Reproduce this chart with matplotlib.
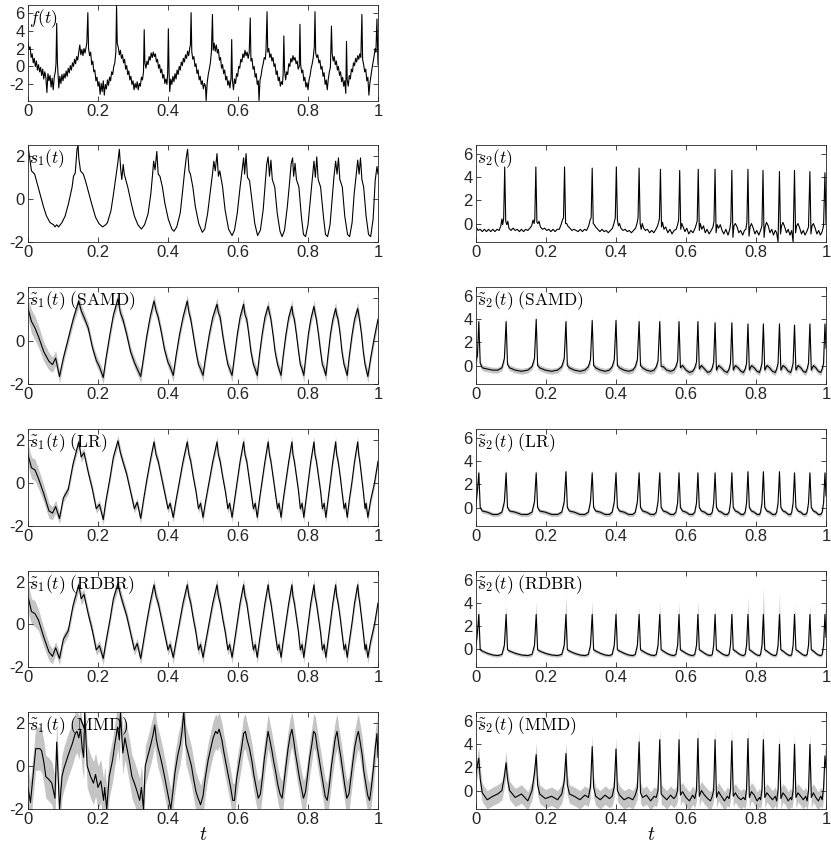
import numpy as np
import matplotlib
matplotlib.use('Agg')
import matplotlib.pyplot as plt

# ---------------- data ----------------
x_ticks = [0, 0.2, 0.4, 0.6, 0.8, 1]
x_tick_labels = ['0', '0.2', '0.4', '0.6', '0.8', '1']

# f(t): (t, value)
f_pts = [
    (0.000, 2.6), (0.003, 1.9), (0.006, 2.2), (0.009, 1.0), (0.012, 1.4), (0.015, 0.4), (0.018, 0.9),
    (0.021, 0.0), (0.024, 0.6), (0.027, -0.4), (0.030, 0.2), (0.033, -0.6), (0.036, -0.1), (0.039, -1.0),
    (0.042, -0.3), (0.045, -1.4), (0.048, -0.6), (0.051, -1.2), (0.054, -2.9), (0.057, -0.8), (0.060, -1.6),
    (0.063, -1.0), (0.066, -2.3), (0.069, -1.3), (0.072, -2.6), (0.075, -1.2), (0.078, -0.6), (0.080, 0.3),
    (0.082, 4.8), (0.084, 0.5), (0.086, -1.0), (0.088, -2.4), (0.091, -1.1), (0.094, -1.9), (0.097, -0.9),
    (0.100, -1.6), (0.103, -0.8), (0.106, -1.3), (0.109, -0.5), (0.112, -1.1), (0.115, -0.2), (0.118, -0.7),
    (0.121, 0.1), (0.124, -0.4), (0.127, 0.4), (0.130, 0.0), (0.133, 0.8), (0.136, 0.3), (0.139, 1.1),
    (0.142, 0.7), (0.145, 1.6), (0.148, 2.4), (0.151, 1.3), (0.154, 1.9), (0.157, 1.2), (0.160, 2.0),
    (0.163, 1.5), (0.166, 2.2), (0.168, 2.6), (0.171, 6.0), (0.173, 2.0), (0.176, 1.2), (0.179, 1.6),
    (0.182, 0.2), (0.185, 0.6), (0.188, -0.6), (0.191, -0.4), (0.194, -1.6), (0.197, -1.2), (0.200, -2.2),
    (0.203, -1.7), (0.206, -3.1), (0.209, -1.9), (0.212, -2.8), (0.215, -1.6), (0.218, -3.2), (0.221, -2.0),
    (0.224, -2.5), (0.227, -1.5), (0.230, -2.1), (0.233, -1.2), (0.236, -1.6), (0.239, -0.6), (0.242, -0.9),
    (0.245, 0.0), (0.248, 0.4), (0.251, 1.6), (0.253, 6.8), (0.255, 2.6), (0.258, 2.1), (0.261, 1.3),
    (0.264, 1.8), (0.267, 0.9), (0.270, 1.3), (0.273, 0.4), (0.276, 0.8), (0.279, -0.3), (0.282, 0.1),
    (0.285, -0.9), (0.288, -0.5), (0.291, -1.5), (0.294, -1.1), (0.297, -2.0), (0.300, -1.6), (0.303, -2.6),
    (0.306, -1.9), (0.309, -2.4), (0.312, -1.7), (0.315, -2.6), (0.318, -1.9), (0.321, -2.2), (0.324, -1.2),
    (0.327, -1.5), (0.330, -0.6), (0.332, 4.1), (0.334, 0.4), (0.337, -0.2), (0.340, 0.6), (0.343, 0.2),
    (0.346, 1.1), (0.349, 0.7), (0.352, 1.5), (0.355, 1.0), (0.358, 1.6), (0.361, 1.1), (0.364, 1.4),
    (0.367, 0.5), (0.370, 0.8), (0.373, -0.2), (0.376, 0.2), (0.379, -0.7), (0.382, -0.3), (0.385, -1.3),
    (0.388, -0.9), (0.391, -1.9), (0.394, -1.4), (0.397, -2.0), (0.399, -0.8), (0.401, 4.2), (0.403, -0.6),
    (0.405, -2.8), (0.408, -1.4), (0.411, -2.0), (0.414, -1.1), (0.417, -1.7), (0.420, -0.8), (0.423, -1.4),
    (0.426, -0.4), (0.429, -0.9), (0.432, 0.0), (0.435, -0.4), (0.438, 0.5), (0.441, 0.1), (0.444, 0.9),
    (0.447, 0.5), (0.450, 1.3), (0.453, 0.9), (0.456, 1.7), (0.459, 1.2), (0.462, 2.0), (0.464, 2.4),
    (0.466, 6.0), (0.468, 1.6), (0.471, 0.8), (0.474, 1.1), (0.477, 0.0), (0.480, 0.3), (0.483, -0.8),
    (0.486, -0.4), (0.489, -1.5), (0.492, -1.1), (0.495, -2.0), (0.498, -1.6), (0.501, -2.5), (0.504, -1.9),
    (0.507, -2.2), (0.509, -3.8), (0.512, -1.8), (0.515, -0.9), (0.518, -0.3), (0.521, 0.4), (0.524, 1.6),
    (0.527, 5.8), (0.529, 1.8), (0.532, 2.6), (0.535, 1.7), (0.538, 2.4), (0.541, 1.5), (0.544, 1.9),
    (0.547, 0.7), (0.550, 1.0), (0.553, -0.2), (0.556, 0.2), (0.559, -0.8), (0.562, -0.4), (0.565, -1.5),
    (0.568, -1.1), (0.571, -2.1), (0.574, -1.6), (0.577, -2.4), (0.580, -1.3), (0.582, 3.0), (0.584, -1.5),
    (0.587, -2.6), (0.590, -1.4), (0.593, -1.9), (0.596, -0.8), (0.599, -1.1), (0.602, 0.0), (0.605, -0.2),
    (0.608, 0.8), (0.611, 0.5), (0.614, 1.4), (0.617, 1.0), (0.620, 1.8), (0.623, 1.2), (0.626, 1.6),
    (0.629, 0.9), (0.632, 1.5), (0.635, 5.4), (0.637, 0.6), (0.640, 0.9), (0.643, -0.3), (0.646, 0.0),
    (0.649, -1.2), (0.652, -0.8), (0.655, -2.0), (0.658, -1.6), (0.660, -3.8), (0.663, -1.5), (0.666, -1.0),
    (0.669, -0.2), (0.672, 0.3), (0.675, 1.0), (0.678, 0.8), (0.680, 1.8), (0.683, 6.1), (0.685, 1.6),
    (0.688, 2.0), (0.691, 1.0), (0.694, 1.4), (0.697, 0.6), (0.700, 1.0), (0.703, 0.0), (0.706, 0.3),
    (0.709, -0.9), (0.712, -0.5), (0.715, -1.6), (0.718, -1.2), (0.721, -2.2), (0.724, -1.7), (0.727, -2.0),
    (0.729, -0.8), (0.731, 3.4), (0.733, -0.4), (0.736, -1.5), (0.739, -0.6), (0.742, -0.9), (0.745, 0.3),
    (0.748, 0.0), (0.751, 0.9), (0.754, 0.5), (0.757, 1.2), (0.760, 0.7), (0.763, 1.0), (0.766, 0.3),
    (0.769, 0.6), (0.772, -0.3), (0.775, 0.0), (0.777, 4.7), (0.779, 0.2), (0.782, -0.7), (0.785, -0.4),
    (0.788, -1.6), (0.791, -1.2), (0.794, -2.3), (0.797, -1.8), (0.800, -2.6), (0.803, -1.5), (0.806, -1.0),
    (0.809, -0.2), (0.812, 0.3), (0.815, 1.0), (0.818, 2.2), (0.820, 6.1), (0.822, 1.5), (0.825, 1.0),
    (0.828, 1.3), (0.831, 0.4), (0.834, 0.7), (0.837, -0.3), (0.840, 0.0), (0.843, -1.1), (0.846, -0.7),
    (0.849, -2.0), (0.852, -1.5), (0.855, -2.6), (0.858, -1.4), (0.861, -0.6), (0.864, -0.1), (0.867, 4.5),
    (0.869, 1.5), (0.872, 0.6), (0.875, 1.1), (0.878, 0.2), (0.881, 0.6), (0.884, -0.4), (0.887, 0.0),
    (0.890, -1.0), (0.893, -0.6), (0.896, -1.7), (0.899, -1.2), (0.902, -2.2), (0.905, -1.6), (0.908, -3.0),
    (0.910, 2.8), (0.912, -1.5), (0.915, -2.2), (0.918, -1.0), (0.921, -1.4), (0.924, -0.3), (0.927, -0.6),
    (0.930, 0.4), (0.933, 0.1), (0.936, 0.9), (0.939, 0.5), (0.942, 1.2), (0.945, 0.8), (0.948, 1.4),
    (0.951, 1.0), (0.954, 5.8), (0.956, 0.8), (0.959, 0.2), (0.962, -0.6), (0.965, -0.3), (0.968, -1.6),
    (0.971, -1.2), (0.974, -3.2), (0.977, -1.8), (0.980, -1.0), (0.983, -0.2), (0.986, 0.5), (0.989, 1.2),
    (0.992, 2.0), (0.994, 1.6), (0.997, 5.3), (1.000, 0.2),
]

# s1(t): (t, value)
s1_pts = [
    (0.000, 2.45), (0.010, 1.3), (0.019, 1.15), (0.034, 0.25), (0.044, -0.35), (0.053, -0.8), (0.063, -1.1),
    (0.073, -1.2), (0.077, -1.3), (0.082, -1.2), (0.087, -1.3), (0.097, -1.1), (0.106, -0.8), (0.116, -0.2),
    (0.126, 0.55), (0.130, 1.05), (0.135, 1.2), (0.140, 2.3), (0.143, 2.5), (0.145, 1.9), (0.150, 1.3),
    (0.158, 1.15), (0.164, 0.85), (0.174, 0.25), (0.184, -0.35), (0.193, -0.85), (0.203, -1.15), (0.213, -1.3),
    (0.222, -1.2), (0.227, -1.1), (0.237, -0.55), (0.244, 0.2), (0.251, 1.0), (0.256, 1.6), (0.261, 2.3),
    (0.265, 1.35), (0.268, 0.9), (0.272, 1.6), (0.275, 1.15), (0.285, 0.55), (0.295, -0.2), (0.304, -0.8),
    (0.314, -1.2), (0.324, -1.4), (0.333, -1.2), (0.343, -0.7), (0.351, 0.25), (0.356, 1.15), (0.359, 1.75),
    (0.363, 1.35), (0.368, 2.2), (0.372, 1.15), (0.377, 1.05), (0.384, 0.55), (0.391, -0.2), (0.401, -0.95),
    (0.411, -1.4), (0.417, -1.5), (0.425, -1.3), (0.435, -0.65), (0.442, 0.4), (0.447, 1.2), (0.452, 1.9),
    (0.456, 2.3), (0.460, 1.3), (0.464, 1.15), (0.471, 0.55), (0.478, -0.35), (0.488, -1.15), (0.498, -1.55),
    (0.505, -1.4), (0.513, -0.7), (0.521, 0.35), (0.527, 1.15), (0.531, 1.75), (0.535, 1.3), (0.540, 2.1),
    (0.544, 1.05), (0.548, 1.3), (0.556, 0.55), (0.563, -0.5), (0.573, -1.4), (0.583, -1.7), (0.590, -1.45),
    (0.598, -0.65), (0.606, 0.55), (0.612, 1.35), (0.616, 1.9), (0.619, 1.15), (0.623, 2.1), (0.627, 1.0),
    (0.633, 0.85), (0.641, -0.2), (0.648, -1.15), (0.656, -1.7), (0.664, -1.45), (0.672, -0.5), (0.677, 0.55),
    (0.682, 1.6), (0.686, 1.95), (0.690, 1.05), (0.694, 1.8), (0.698, 0.9), (0.705, 0.55), (0.712, -0.65),
    (0.720, -1.5), (0.726, -1.75), (0.733, -1.45), (0.741, -0.35), (0.747, 0.7), (0.752, 1.65), (0.756, 1.9),
    (0.759, 1.05), (0.763, 1.65), (0.767, 0.9), (0.774, 0.55), (0.781, -0.8), (0.787, -1.65), (0.793, -1.75),
    (0.800, -1.2), (0.807, 0.0), (0.813, 1.0), (0.817, 1.75), (0.821, 1.0), (0.825, 1.95), (0.829, 0.9),
    (0.836, 0.55), (0.844, -0.8), (0.850, -1.65), (0.856, -1.75), (0.863, -1.2), (0.869, 0.0), (0.874, 1.0),
    (0.879, 1.75), (0.883, 1.15), (0.887, 1.9), (0.891, 0.9), (0.898, 0.55), (0.905, -0.8), (0.913, -1.65),
    (0.919, -1.75), (0.926, -1.1), (0.932, 0.25), (0.938, 1.15), (0.942, 1.8), (0.946, 1.15), (0.950, 1.9),
    (0.954, 0.9), (0.959, 0.55), (0.966, -0.8), (0.973, -1.65), (0.979, -1.75), (0.986, -0.95), (0.992, 0.85),
    (0.997, 1.5), (1.000, 1.15),
]

# s2(t): (t, value)
s2_pts = [
    (0.000, -0.3), (0.006, -0.6), (0.012, -0.5), (0.018, -0.7), (0.024, -0.5), (0.030, -0.7), (0.036, -0.5),
    (0.042, -0.7), (0.048, -0.5), (0.054, -0.7), (0.060, -0.5), (0.066, -0.6), (0.071, -0.2), (0.074, 0.4),
    (0.076, -0.1), (0.079, 0.4), (0.082, 4.9), (0.085, 0.2), (0.088, -0.1), (0.091, 0.2), (0.094, -0.4),
    (0.100, -0.6), (0.106, -0.4), (0.112, -0.6), (0.118, -0.5), (0.124, -0.7), (0.130, -0.5), (0.136, -0.7),
    (0.142, -0.5), (0.148, -0.6), (0.154, -0.4), (0.159, -0.2), (0.163, 0.3), (0.166, 0.0), (0.168, 0.4),
    (0.171, 4.9), (0.174, 0.1), (0.177, 0.0), (0.180, 0.2), (0.184, -0.3), (0.190, -0.5), (0.196, -0.4),
    (0.202, -0.6), (0.208, -0.5), (0.214, -0.7), (0.220, -0.5), (0.226, -0.7), (0.232, -0.5), (0.238, -0.5),
    (0.243, -0.1), (0.247, 0.3), (0.250, 0.5), (0.253, 4.9), (0.256, 0.0), (0.259, 0.0), (0.262, -0.2),
    (0.268, -0.4), (0.274, -0.6), (0.280, -0.5), (0.286, -0.6), (0.292, -0.7), (0.298, -0.5), (0.304, -0.7),
    (0.310, -0.5), (0.316, -0.6), (0.322, -0.2), (0.326, 0.3), (0.329, 0.5), (0.332, 4.8), (0.335, 0.0),
    (0.338, -0.1), (0.342, -0.3), (0.348, -0.5), (0.354, -0.7), (0.360, -0.5), (0.366, -0.7), (0.372, -0.6),
    (0.378, -0.8), (0.384, -0.6), (0.390, -0.4), (0.394, 0.0), (0.398, 0.5), (0.401, 4.9), (0.404, 0.3),
    (0.407, -0.2), (0.410, 0.0), (0.414, -0.4), (0.420, -0.6), (0.426, -0.5), (0.432, -0.7), (0.438, -0.6),
    (0.444, -0.8), (0.450, -0.6), (0.456, -0.4), (0.460, 0.0), (0.463, 0.5), (0.466, 4.8), (0.469, 0.0),
    (0.472, -0.5), (0.475, 0.0), (0.479, -0.4), (0.484, -0.6), (0.490, -0.5), (0.496, -0.8), (0.502, -0.6),
    (0.508, -0.8), (0.514, -0.5), (0.519, -0.2), (0.524, 0.4), (0.527, 4.7), (0.530, -0.3), (0.533, 0.1),
    (0.537, -0.5), (0.542, -0.3), (0.548, -0.8), (0.554, -0.5), (0.560, -0.9), (0.566, -0.6), (0.572, -0.5),
    (0.576, -0.1), (0.579, 0.3), (0.582, 4.6), (0.585, -0.5), (0.588, 0.0), (0.592, -0.3), (0.597, -0.7),
    (0.602, -0.4), (0.608, -0.9), (0.614, -0.6), (0.620, -0.8), (0.626, -0.4), (0.632, 0.2), (0.635, 4.7),
    (0.638, -0.6), (0.641, 0.0), (0.645, -0.5), (0.650, -0.2), (0.655, -0.8), (0.660, -0.5), (0.666, -0.9),
    (0.672, -0.6), (0.677, -0.3), (0.680, 0.2), (0.683, 4.7), (0.686, -0.8), (0.689, -0.1), (0.693, -0.4),
    (0.698, -0.1), (0.703, -0.6), (0.708, -0.9), (0.714, -0.5), (0.720, -1.0), (0.725, -0.5), (0.728, 0.1),
    (0.731, 4.6), (0.734, -1.2), (0.737, -0.2), (0.741, 0.0), (0.746, -0.3), (0.751, -0.8), (0.756, -0.6),
    (0.762, -1.0), (0.767, -0.6), (0.771, -0.5), (0.774, 0.1), (0.777, 4.7), (0.780, -1.1), (0.783, -0.3),
    (0.787, 0.0), (0.792, -0.4), (0.797, -0.9), (0.802, -0.6), (0.808, -1.0), (0.813, -0.6), (0.817, -0.2),
    (0.820, 4.6), (0.823, -1.2), (0.826, -0.3), (0.830, 0.1), (0.835, -0.2), (0.840, -0.8), (0.845, -0.5),
    (0.850, -1.0), (0.855, -0.6), (0.859, -0.8), (0.863, -1.6), (0.867, 4.5), (0.870, -0.9), (0.873, -0.2),
    (0.877, 0.1), (0.882, -0.3), (0.887, -0.8), (0.892, -0.5), (0.897, -1.0), (0.902, -0.6), (0.906, -1.6),
    (0.910, 4.6), (0.913, -0.8), (0.916, -0.2), (0.920, 0.0), (0.925, -0.4), (0.930, -0.9), (0.935, -0.6),
    (0.940, -1.0), (0.945, -0.7), (0.950, -0.3), (0.954, 4.5), (0.957, -0.9), (0.960, -0.2), (0.964, 0.0),
    (0.969, -0.4), (0.974, -0.9), (0.979, -0.6), (0.984, -1.0), (0.989, -0.7), (0.993, -0.2), (0.997, 4.4),
    (1.000, 0.0),
]

# time grid shared by the SAMD / LR / RDBR estimates of s1 (one row per cycle)
s1r_t = [
    0.000, 0.010, 0.020, 0.030, 0.045, 0.060, 0.070, 0.079, 0.090,
    0.101, 0.115, 0.129, 0.145, 0.152, 0.160, 0.172, 0.184, 0.195, 0.204, 0.215,
    0.223, 0.234, 0.244, 0.257, 0.264, 0.271, 0.282, 0.293, 0.304, 0.312, 0.322,
    0.330, 0.339, 0.349, 0.360, 0.366, 0.372, 0.381, 0.390, 0.400, 0.406, 0.415,
    0.423, 0.433, 0.443, 0.455, 0.460, 0.465, 0.472, 0.480, 0.487, 0.493, 0.500,
    0.508, 0.518, 0.528, 0.540, 0.544, 0.549, 0.556, 0.564, 0.571, 0.576, 0.583,
    0.590, 0.598, 0.606, 0.616, 0.620, 0.625, 0.631, 0.637, 0.644, 0.649, 0.655,
    0.661, 0.669, 0.677, 0.686, 0.690, 0.694, 0.700, 0.706, 0.713, 0.717, 0.723,
    0.729, 0.737, 0.745, 0.754, 0.757, 0.761, 0.767, 0.773, 0.778, 0.783, 0.788,
    0.794, 0.801, 0.808, 0.817, 0.820, 0.824, 0.830, 0.836, 0.841, 0.846, 0.851,
    0.857, 0.864, 0.871, 0.879, 0.882, 0.886, 0.892, 0.897, 0.903, 0.907, 0.912,
    0.918, 0.926, 0.933, 0.942, 0.945, 0.948, 0.953, 0.958, 0.963, 0.966, 0.971,
    0.979, 0.990, 1.000,
]

samd1 = [
    1.5, 0.9, 0.6, 0.2, -0.5, -0.95, -1.1, -0.8, -1.65,
    -0.8, 0.1, 1.0, 1.85, 1.4, 1.1, 0.6, -0.3, -0.9, -1.2, -1.7,
    -0.8, 0.3, 1.2, 1.95, 1.3, 1.0, 0.3, -0.5, -1.0, -1.3, -1.65,
    -0.8, 0.2, 1.1, 1.85, 1.4, 1.1, 0.4, -0.4, -1.0, -1.2, -1.6,
    -0.7, 0.3, 1.1, 1.85, 1.3, 1.0, 0.3, -0.5, -1.1, -1.3, -1.6,
    -0.7, 0.3, 1.1, 1.7, 1.3, 1.1, 0.3, -0.5, -1.1, -1.3, -1.6,
    -0.7, 0.3, 1.1, 1.7, 1.2, 1.0, 0.3, -0.5, -1.1, -1.3, -1.6,
    -0.7, 0.3, 1.1, 1.6, 1.3, 1.0, 0.3, -0.5, -1.1, -1.3, -1.6,
    -0.7, 0.3, 1.1, 1.6, 1.2, 1.0, 0.3, -0.5, -1.1, -1.3, -1.6,
    -0.7, 0.3, 1.0, 1.6, 1.3, 1.0, 0.3, -0.5, -1.1, -1.3, -1.6,
    -0.7, 0.3, 1.0, 1.5, 1.2, 1.0, 0.3, -0.5, -1.1, -1.3, -1.6,
    -0.7, 0.3, 1.0, 1.5, 1.2, 0.9, 0.3, -0.5, -1.1, -1.3, -1.65,
    -0.8, 0.2, 1.0,
]

lr1 = [
    1.3, 0.7, 0.6, 0.2, -0.5, -1.3, -1.4, -1.1, -1.65,
    -0.7, -0.3, 0.9, 1.9, 1.2, 1.4, 0.5, -0.3, -1.2, -1.0, -1.7,
    -0.8, 0.2, 1.2, 1.95, 1.4, 1.0, 0.4, -0.4, -1.2, -0.9, -1.65,
    -0.8, 0.1, 1.0, 1.9, 1.3, 1.0, 0.3, -0.4, -1.2, -0.95, -1.6,
    -0.8, 0.1, 1.0, 1.9, 1.3, 1.0, 0.3, -0.4, -1.2, -0.95, -1.6,
    -0.8, 0.1, 1.0, 1.9, 1.3, 1.0, 0.3, -0.4, -1.2, -0.95, -1.6,
    -0.8, 0.1, 1.0, 1.9, 1.3, 1.0, 0.3, -0.4, -1.2, -0.95, -1.6,
    -0.8, 0.1, 1.0, 1.9, 1.3, 1.0, 0.3, -0.4, -1.2, -0.95, -1.6,
    -0.8, 0.1, 1.0, 1.9, 1.3, 1.0, 0.3, -0.4, -1.2, -0.95, -1.6,
    -0.8, 0.1, 1.0, 1.9, 1.3, 1.0, 0.3, -0.4, -1.2, -0.95, -1.6,
    -0.8, 0.1, 1.0, 1.9, 1.3, 1.0, 0.3, -0.4, -1.2, -0.95, -1.6,
    -0.8, 0.1, 1.0, 1.9, 1.3, 1.0, 0.3, -0.4, -1.2, -0.95, -1.6,
    -0.8, 0.0, 1.0,
]

rdbr1 = [
    1.3, 0.6, 0.5, 0.2, -0.6, -1.3, -1.5, -1.1, -1.6,
    -0.7, -0.3, 0.9, 1.85, 1.2, 1.4, 0.5, -0.3, -1.2, -1.0, -1.6,
    -0.8, 0.2, 1.2, 1.9, 1.4, 1.0, 0.4, -0.4, -1.2, -0.9, -1.6,
    -0.8, 0.1, 1.0, 1.85, 1.3, 1.0, 0.3, -0.4, -1.2, -0.95, -1.55,
    -0.8, 0.1, 1.0, 1.85, 1.3, 1.0, 0.3, -0.4, -1.2, -0.95, -1.55,
    -0.8, 0.1, 1.0, 1.85, 1.3, 1.0, 0.3, -0.4, -1.2, -0.95, -1.55,
    -0.8, 0.1, 1.0, 1.85, 1.3, 1.0, 0.3, -0.4, -1.2, -0.95, -1.55,
    -0.8, 0.1, 1.0, 1.85, 1.3, 1.0, 0.3, -0.4, -1.2, -0.95, -1.55,
    -0.8, 0.1, 1.0, 1.85, 1.3, 1.0, 0.3, -0.4, -1.2, -0.95, -1.55,
    -0.8, 0.1, 1.0, 1.85, 1.3, 1.0, 0.3, -0.4, -1.2, -0.95, -1.55,
    -0.8, 0.1, 1.0, 1.85, 1.3, 1.0, 0.3, -0.4, -1.2, -0.95, -1.55,
    -0.8, 0.1, 1.0, 1.85, 1.3, 1.0, 0.3, -0.4, -1.2, -0.95, -1.55,
    -0.8, 0.0, 1.0,
]

# half-width of the grey spread of the s1 estimates
samd1_w = [
    0.45, 0.55, 0.55, 0.5, 0.45, 0.4, 0.35, 0.35, 0.3,
    0.25, 0.25, 0.25, 0.3, 0.3, 0.25, 0.25, 0.25, 0.25, 0.25, 0.3,
    0.25, 0.25, 0.25, 0.3, 0.3, 0.25, 0.25, 0.25, 0.25, 0.25, 0.3,
    0.25, 0.25, 0.25, 0.3, 0.3, 0.25, 0.25, 0.25, 0.25, 0.25, 0.3,
    0.25, 0.25, 0.25, 0.3, 0.3, 0.25, 0.25, 0.25, 0.25, 0.25, 0.3,
    0.25, 0.25, 0.25, 0.3, 0.3, 0.25, 0.25, 0.25, 0.25, 0.25, 0.3,
    0.25, 0.25, 0.25, 0.3, 0.3, 0.25, 0.25, 0.25, 0.25, 0.25, 0.3,
    0.25, 0.25, 0.25, 0.3, 0.3, 0.25, 0.25, 0.25, 0.25, 0.25, 0.3,
    0.25, 0.25, 0.25, 0.3, 0.3, 0.25, 0.25, 0.25, 0.25, 0.25, 0.3,
    0.25, 0.25, 0.25, 0.3, 0.3, 0.25, 0.25, 0.25, 0.25, 0.25, 0.3,
    0.25, 0.25, 0.25, 0.3, 0.3, 0.25, 0.25, 0.25, 0.25, 0.25, 0.3,
    0.25, 0.25, 0.25, 0.3, 0.3, 0.25, 0.25, 0.25, 0.25, 0.25, 0.3,
    0.25, 0.25, 0.25,
]
lr1_w = [
    0.5, 0.5, 0.5, 0.45, 0.4, 0.35, 0.3, 0.3, 0.25,
    0.2, 0.2, 0.2, 0.25, 0.25, 0.2, 0.2, 0.2, 0.2, 0.2, 0.25,
    0.2, 0.2, 0.2, 0.25, 0.25, 0.2, 0.2, 0.2, 0.2, 0.2, 0.25,
    0.2, 0.2, 0.2, 0.25, 0.25, 0.2, 0.2, 0.2, 0.2, 0.2, 0.25,
    0.2, 0.2, 0.2, 0.25, 0.25, 0.2, 0.2, 0.2, 0.2, 0.2, 0.25,
    0.2, 0.2, 0.2, 0.25, 0.25, 0.2, 0.2, 0.2, 0.2, 0.2, 0.25,
    0.2, 0.2, 0.2, 0.25, 0.25, 0.2, 0.2, 0.2, 0.2, 0.2, 0.25,
    0.2, 0.2, 0.2, 0.25, 0.25, 0.2, 0.2, 0.2, 0.2, 0.2, 0.25,
    0.2, 0.2, 0.2, 0.25, 0.25, 0.2, 0.2, 0.2, 0.2, 0.2, 0.25,
    0.2, 0.2, 0.2, 0.25, 0.25, 0.2, 0.2, 0.2, 0.2, 0.2, 0.25,
    0.2, 0.2, 0.2, 0.25, 0.25, 0.2, 0.2, 0.2, 0.2, 0.2, 0.25,
    0.2, 0.2, 0.2, 0.25, 0.25, 0.2, 0.2, 0.2, 0.2, 0.2, 0.25,
    0.2, 0.2, 0.2,
]
rdbr1_w = [
    0.7, 0.6, 0.6, 0.5, 0.45, 0.4, 0.35, 0.3, 0.3,
    0.25, 0.25, 0.25, 0.3, 0.3, 0.25, 0.25, 0.25, 0.25, 0.25, 0.3,
    0.25, 0.25, 0.25, 0.3, 0.3, 0.25, 0.25, 0.25, 0.25, 0.25, 0.3,
    0.25, 0.25, 0.25, 0.3, 0.3, 0.25, 0.25, 0.25, 0.25, 0.25, 0.3,
    0.25, 0.25, 0.25, 0.3, 0.3, 0.25, 0.25, 0.25, 0.25, 0.25, 0.3,
    0.25, 0.25, 0.25, 0.3, 0.3, 0.25, 0.25, 0.25, 0.25, 0.25, 0.3,
    0.25, 0.25, 0.25, 0.3, 0.3, 0.25, 0.25, 0.25, 0.25, 0.25, 0.3,
    0.25, 0.25, 0.25, 0.3, 0.3, 0.25, 0.25, 0.25, 0.25, 0.25, 0.3,
    0.25, 0.25, 0.25, 0.3, 0.3, 0.25, 0.25, 0.25, 0.25, 0.25, 0.3,
    0.25, 0.25, 0.25, 0.3, 0.3, 0.25, 0.25, 0.25, 0.25, 0.25, 0.3,
    0.25, 0.25, 0.25, 0.3, 0.3, 0.25, 0.25, 0.25, 0.25, 0.25, 0.3,
    0.25, 0.25, 0.25, 0.3, 0.3, 0.25, 0.25, 0.25, 0.25, 0.25, 0.3,
    0.25, 0.25, 0.25,
]

# MMD estimate of s1: (t, value, spread)
mmd1_pts = [
    (0.000, -1.0, 1.0), (0.007, -1.7, 1.0), (0.022, 0.8, 1.0), (0.034, 0.8, 1.0), (0.039, 0.7, 1.0),
    (0.045, 0.2, 1.0), (0.051, -0.5, 1.0), (0.058, -0.6, 1.0), (0.063, -0.7, 1.0), (0.068, -0.8, 1.0),
    (0.073, -1.2, 1.0), (0.077, -1.5, 1.0), (0.082, 1.1, 1.0), (0.090, -2.0, 1.0), (0.097, -0.5, 1.0),
    (0.103, -0.1, 1.0), (0.111, 0.3, 1.0), (0.117, 0.6, 1.0), (0.126, 1.0, 1.0), (0.135, 1.5, 1.0),
    (0.140, 1.6, 1.0), (0.145, 1.3, 1.0), (0.150, 1.7, 1.0), (0.155, 0.8, 1.0), (0.159, 0.4, 1.0),
    (0.162, 2.5, 1.0), (0.169, 0.0, 1.0), (0.179, -0.5, 1.0), (0.187, -0.8, 1.0), (0.193, -0.4, 1.0),
    (0.200, -1.0, 1.0), (0.208, -0.7, 1.0), (0.216, -1.6, 1.0), (0.219, -1.0, 1.0), (0.225, -2.0, 1.0),
    (0.232, -0.5, 1.0), (0.242, 0.3, 1.0), (0.248, 1.0, 1.0), (0.256, 1.8, 1.0), (0.261, 1.2, 1.0),
    (0.264, 2.5, 1.0), (0.271, 0.6, 1.0), (0.277, 1.3, 1.0), (0.283, 0.8, 1.0), (0.290, 0.2, 1.0),
    (0.297, -0.5, 1.0), (0.304, -0.8, 1.0), (0.312, -1.2, 1.0), (0.319, -1.6, 1.0), (0.324, -1.0, 1.0),
    (0.330, -2.0, 1.0), (0.335, 0.0, 0.9), (0.343, 0.5, 0.9), (0.351, 1.0, 0.9), (0.358, 1.5, 0.9),
    (0.362, 1.9, 0.9), (0.367, 1.2, 0.9), (0.372, 0.8, 0.9), (0.377, 0.5, 0.9), (0.384, 0.0, 0.9),
    (0.389, -0.4, 0.9), (0.396, -1.0, 0.9), (0.403, -1.6, 0.9), (0.408, -2.0, 0.9), (0.414, -1.2, 0.9),
    (0.420, -0.3, 0.9), (0.428, 0.5, 0.9), (0.435, 1.0, 0.9), (0.440, 1.6, 0.9), (0.445, 2.5, 0.9),
    (0.451, 1.0, 0.9), (0.459, 0.5, 0.9), (0.467, 0.0, 0.9), (0.473, -0.6, 0.9), (0.480, -1.2, 0.9),
    (0.486, -1.5, 0.9), (0.493, -1.8, 0.9), (0.500, -1.4, 0.9), (0.507, -0.5, 0.8), (0.515, 0.3, 0.8),
    (0.522, 0.8, 0.8), (0.529, 1.3, 0.8), (0.536, 1.6, 0.8), (0.541, 1.5, 0.8), (0.546, 1.7, 0.8),
    (0.554, 1.2, 0.8), (0.560, 0.6, 0.8), (0.567, 0.0, 0.8), (0.573, -0.5, 0.8), (0.579, -1.0, 0.8),
    (0.585, -1.6, 0.8), (0.590, -1.6, 0.8), (0.596, -0.6, 0.8), (0.604, 0.2, 0.8), (0.611, 0.9, 0.8),
    (0.616, 1.5, 0.8), (0.621, 1.6, 0.8), (0.626, 1.2, 0.8), (0.633, 0.8, 0.8), (0.640, 0.2, 0.8),
    (0.645, -0.4, 0.8), (0.652, -1.0, 0.8), (0.658, -1.5, 0.8), (0.664, -1.3, 0.8), (0.670, -0.5, 0.8),
    (0.675, 0.3, 0.8), (0.681, 1.0, 0.8), (0.686, 1.6, 0.8), (0.691, 1.2, 0.8), (0.697, 0.7, 0.8),
    (0.702, 0.2, 0.8), (0.708, -0.3, 0.8), (0.714, -0.9, 0.8), (0.720, -1.3, 0.8), (0.726, -1.5, 0.8),
    (0.731, -0.8, 0.8), (0.737, 0.0, 0.8), (0.743, 0.8, 0.8), (0.749, 1.4, 0.8), (0.754, 1.7, 0.8),
    (0.759, 1.2, 0.8), (0.764, 0.6, 0.8), (0.770, 0.0, 0.8), (0.776, -0.6, 0.8), (0.782, -1.1, 0.8),
    (0.787, -1.5, 0.8), (0.793, -1.2, 0.8), (0.799, -0.4, 0.8), (0.805, 0.4, 0.8), (0.811, 1.0, 0.8),
    (0.816, 1.6, 0.8), (0.821, 1.5, 0.8), (0.826, 0.9, 0.8), (0.832, 0.3, 0.8), (0.838, -0.3, 0.8),
    (0.844, -0.9, 0.8), (0.849, -1.4, 0.8), (0.855, -1.6, 0.8), (0.861, -0.9, 0.8), (0.867, 0.0, 0.8),
    (0.873, 0.7, 0.8), (0.878, 1.3, 0.8), (0.883, 1.6, 0.8), (0.888, 1.0, 0.8), (0.894, 0.4, 0.8),
    (0.900, -0.3, 0.8), (0.905, -0.9, 0.8), (0.911, -1.5, 0.8), (0.917, -1.3, 0.8), (0.923, -0.5, 0.8),
    (0.929, 0.3, 0.8), (0.934, 0.9, 0.8), (0.940, 1.4, 0.8), (0.944, 1.6, 0.8), (0.949, 1.1, 0.8),
    (0.955, 0.5, 0.8), (0.959, -0.2, 0.8), (0.965, -0.8, 0.8), (0.971, -1.4, 0.8), (0.976, -1.6, 0.8),
    (0.981, -1.0, 0.8), (0.987, -0.1, 0.8), (0.992, 0.8, 0.8), (0.997, 1.5, 0.8), (1.000, 0.4, 0.8),
]

# time grid shared by the estimates of s2 (one row per spike interval)
s2r_t = [
    0.000, 0.004, 0.008,
    0.012, 0.018, 0.032, 0.048, 0.062, 0.074, 0.081, 0.086,
    0.090, 0.096, 0.112, 0.130, 0.148, 0.160, 0.167, 0.172,
    0.176, 0.182, 0.198, 0.216, 0.233, 0.245, 0.252, 0.257,
    0.261, 0.267, 0.281, 0.297, 0.311, 0.321, 0.327, 0.332,
    0.336, 0.342, 0.355, 0.369, 0.381, 0.389, 0.395, 0.400,
    0.404, 0.410, 0.423, 0.436, 0.448, 0.455, 0.461, 0.466,
    0.470, 0.476, 0.487, 0.499, 0.509, 0.515, 0.520, 0.525,
    0.529, 0.535, 0.545, 0.556, 0.565, 0.571, 0.576, 0.580,
    0.584, 0.590, 0.600, 0.610, 0.619, 0.625, 0.630, 0.634,
    0.638, 0.644, 0.653, 0.662, 0.670, 0.675, 0.679, 0.683,
    0.687, 0.693, 0.701, 0.710, 0.718, 0.723, 0.727, 0.731,
    0.735, 0.741, 0.749, 0.757, 0.764, 0.769, 0.773, 0.777,
    0.781, 0.787, 0.795, 0.803, 0.810, 0.813, 0.817, 0.821,
    0.825, 0.831, 0.839, 0.847, 0.855, 0.859, 0.863, 0.867,
    0.871, 0.877, 0.885, 0.892, 0.899, 0.902, 0.906, 0.910,
    0.914, 0.920, 0.928, 0.935, 0.942, 0.946, 0.950, 0.954,
    0.958, 0.964, 0.971, 0.978, 0.985, 0.989, 0.993, 0.997,
    1.000,
]

samd2 = [
    0.5, 0.8, 3.8,
    0.2, -0.2, -0.3, -0.4, -0.4, -0.2, 0.6, 3.8,
    0.1, -0.2, -0.4, -0.5, -0.4, -0.1, 0.6, 4.0,
    0.0, -0.2, -0.4, -0.5, -0.4, -0.1, 0.6, 3.8,
    0.0, -0.2, -0.4, -0.5, -0.4, -0.1, 0.5, 3.9,
    0.0, -0.2, -0.4, -0.5, -0.4, -0.1, 0.5, 3.9,
    0.0, -0.2, -0.4, -0.5, -0.4, -0.1, 0.5, 3.8,
    0.0, -0.2, -0.4, -0.5, -0.4, -0.1, 0.4, 3.8,
    -0.1, -0.1, -0.4, -0.5, -0.4, -0.1, 0.4, 3.8,
    -0.2, 0.0, -0.4, -0.6, -0.5, -0.2, 0.3, 3.8,
    -0.3, 0.0, -0.3, -0.6, -0.5, -0.2, 0.3, 3.7,
    -0.4, 0.0, -0.2, -0.5, -0.6, -0.3, 0.2, 3.7,
    -0.4, 0.0, -0.2, -0.5, -0.6, -0.3, 0.2, 3.6,
    -0.4, 0.0, -0.2, -0.5, -0.6, -0.3, 0.2, 3.6,
    -0.4, 0.0, -0.2, -0.5, -0.6, -0.3, 0.2, 3.6,
    -0.4, 0.0, -0.2, -0.5, -0.6, -0.3, 0.2, 3.5,
    -0.4, 0.0, -0.2, -0.5, -0.6, -0.3, 0.2, 3.6,
    -0.4, 0.0, -0.2, -0.5, -0.6, -0.3, 0.2, 3.6,
    1.5,
]

lr2 = [
    0.3, 1.5, 3.0,
    0.0, -0.3, -0.4, -0.6, -0.6, -0.4, 0.5, 3.0,
    0.0, -0.3, -0.4, -0.6, -0.6, -0.4, 0.5, 3.0,
    0.0, -0.3, -0.4, -0.6, -0.6, -0.4, 0.5, 3.1,
    0.0, -0.3, -0.4, -0.6, -0.6, -0.4, 0.5, 3.0,
    0.0, -0.3, -0.4, -0.6, -0.6, -0.4, 0.5, 3.0,
    0.0, -0.3, -0.4, -0.6, -0.6, -0.4, 0.5, 3.0,
    0.0, -0.3, -0.4, -0.6, -0.6, -0.4, 0.5, 3.0,
    0.0, -0.3, -0.4, -0.6, -0.6, -0.4, 0.4, 3.0,
    0.0, -0.3, -0.4, -0.6, -0.6, -0.4, 0.4, 3.0,
    0.0, -0.3, -0.4, -0.6, -0.6, -0.4, 0.4, 3.0,
    0.0, -0.3, -0.4, -0.6, -0.6, -0.4, 0.4, 3.0,
    0.0, -0.3, -0.4, -0.6, -0.6, -0.4, 0.4, 3.1,
    0.0, -0.3, -0.4, -0.6, -0.6, -0.4, 0.4, 3.1,
    0.0, -0.3, -0.4, -0.6, -0.6, -0.4, 0.4, 3.1,
    0.0, -0.3, -0.4, -0.6, -0.6, -0.4, 0.4, 3.0,
    0.0, -0.3, -0.4, -0.6, -0.6, -0.4, 0.4, 3.0,
    0.0, -0.3, -0.4, -0.6, -0.6, -0.4, 0.4, 3.0,
    1.0,
]

rdbr2 = [
    0.3, 1.4, 3.0,
    -0.1, -0.2, -0.4, -0.55, -0.6, -0.5, 0.3, 3.0,
    -0.1, -0.2, -0.4, -0.55, -0.6, -0.5, 0.3, 3.0,
    -0.1, -0.2, -0.4, -0.55, -0.6, -0.5, 0.3, 3.0,
    -0.1, -0.2, -0.4, -0.55, -0.6, -0.5, 0.3, 3.0,
    -0.1, -0.2, -0.4, -0.55, -0.6, -0.5, 0.3, 3.0,
    -0.1, -0.2, -0.4, -0.55, -0.6, -0.5, 0.3, 3.0,
    -0.1, -0.2, -0.4, -0.55, -0.6, -0.5, 0.3, 3.0,
    -0.1, -0.2, -0.4, -0.55, -0.6, -0.5, 0.3, 3.0,
    -0.1, -0.2, -0.4, -0.55, -0.6, -0.5, 0.3, 3.0,
    -0.1, -0.2, -0.4, -0.55, -0.6, -0.5, 0.3, 3.0,
    -0.1, -0.2, -0.4, -0.55, -0.6, -0.5, 0.3, 3.0,
    -0.1, -0.2, -0.4, -0.55, -0.6, -0.5, 0.3, 3.0,
    -0.1, -0.2, -0.4, -0.55, -0.6, -0.5, 0.3, 3.0,
    -0.1, -0.2, -0.4, -0.55, -0.6, -0.5, 0.3, 3.0,
    -0.1, -0.2, -0.4, -0.55, -0.6, -0.5, 0.3, 3.0,
    -0.1, -0.2, -0.4, -0.55, -0.6, -0.5, 0.3, 3.0,
    -0.1, -0.2, -0.4, -0.55, -0.6, -0.5, 0.3, 3.0,
    1.0,
]

mmd2 = [
    1.5, 2.2, 2.8,
    1.0, -0.2, -0.8, -0.5, -0.3, 0.0, 1.2, 2.4,
    1.0, 0.0, -0.6, -0.3, -0.9, 0.0, 1.5, 3.1,
    0.5, -0.3, -0.7, -0.5, -0.8, -0.3, 0.8, 3.2,
    0.5, -0.3, -0.5, -0.8, -0.4, -0.6, 0.3, 3.8,
    0.3, -0.5, -0.8, -0.4, -0.7, -0.5, 0.3, 3.6,
    0.0, -0.4, -0.8, -0.6, -0.8, -0.4, 0.2, 4.2,
    -0.2, -0.6, -0.4, -0.9, -0.5, -0.6, 0.0, 4.4,
    -0.3, -0.5, -0.8, -0.4, -0.7, -0.5, 0.0, 4.4,
    -0.4, -0.1, -0.6, -0.9, -0.4, -0.7, 0.0, 4.5,
    -0.5, 0.0, -0.4, -0.7, -0.9, -0.5, 0.0, 4.4,
    -0.6, -0.1, -0.5, -0.9, -0.5, -0.7, 0.0, 4.3,
    -0.5, -0.2, -0.6, -0.8, -0.6, -0.8, 0.1, 4.5,
    -0.6, -0.1, -0.4, -0.9, -0.6, -0.8, 0.0, 4.4,
    -0.6, -0.2, -0.5, -0.8, -0.5, -0.9, 0.0, 4.0,
    -0.7, -0.2, -0.5, -0.9, -0.6, -0.8, 0.0, 4.0,
    -0.6, -0.2, -0.5, -0.8, -0.5, -0.9, 0.0, 4.0,
    -0.6, -0.2, -0.6, -0.9, -0.5, -0.8, 0.2, 3.0,
    2.0,
]

# half-width of the grey spread of the s2 estimates
samd2_w = [
    0.3, 0.35, 0.45,
    0.3, 0.25, 0.25, 0.25, 0.25, 0.25, 0.35, 0.45,
    0.3, 0.25, 0.25, 0.25, 0.25, 0.25, 0.35, 0.45,
    0.3, 0.25, 0.25, 0.25, 0.25, 0.25, 0.35, 0.45,
    0.3, 0.25, 0.25, 0.25, 0.25, 0.25, 0.35, 0.45,
    0.3, 0.25, 0.25, 0.25, 0.25, 0.25, 0.35, 0.45,
    0.3, 0.25, 0.25, 0.25, 0.25, 0.25, 0.35, 0.45,
    0.3, 0.25, 0.25, 0.25, 0.25, 0.25, 0.35, 0.45,
    0.3, 0.25, 0.25, 0.25, 0.25, 0.25, 0.35, 0.45,
    0.3, 0.25, 0.25, 0.25, 0.25, 0.25, 0.35, 0.45,
    0.3, 0.25, 0.25, 0.25, 0.25, 0.25, 0.35, 0.45,
    0.3, 0.25, 0.25, 0.25, 0.25, 0.25, 0.35, 0.45,
    0.3, 0.25, 0.25, 0.25, 0.25, 0.25, 0.35, 0.45,
    0.3, 0.25, 0.25, 0.25, 0.25, 0.25, 0.35, 0.45,
    0.3, 0.25, 0.25, 0.25, 0.25, 0.25, 0.35, 0.45,
    0.3, 0.25, 0.25, 0.25, 0.25, 0.25, 0.35, 0.45,
    0.3, 0.25, 0.25, 0.25, 0.25, 0.25, 0.35, 0.45,
    0.3, 0.25, 0.25, 0.25, 0.25, 0.25, 0.35, 0.45,
    0.3,
]
lr2_w = [
    0.2, 0.3, 0.4,
    0.2, 0.18, 0.18, 0.18, 0.18, 0.18, 0.25, 0.4,
    0.2, 0.18, 0.18, 0.18, 0.18, 0.18, 0.25, 0.4,
    0.2, 0.18, 0.18, 0.18, 0.18, 0.18, 0.25, 0.4,
    0.2, 0.18, 0.18, 0.18, 0.18, 0.18, 0.25, 0.4,
    0.2, 0.18, 0.18, 0.18, 0.18, 0.18, 0.25, 0.4,
    0.2, 0.18, 0.18, 0.18, 0.18, 0.18, 0.25, 0.4,
    0.2, 0.18, 0.18, 0.18, 0.18, 0.18, 0.25, 0.4,
    0.2, 0.18, 0.18, 0.18, 0.18, 0.18, 0.25, 0.4,
    0.2, 0.18, 0.18, 0.18, 0.18, 0.18, 0.25, 0.4,
    0.2, 0.18, 0.18, 0.18, 0.18, 0.18, 0.25, 0.4,
    0.2, 0.18, 0.18, 0.18, 0.18, 0.18, 0.25, 0.4,
    0.2, 0.18, 0.18, 0.18, 0.18, 0.18, 0.25, 0.4,
    0.2, 0.18, 0.18, 0.18, 0.18, 0.18, 0.25, 0.4,
    0.2, 0.18, 0.18, 0.18, 0.18, 0.18, 0.25, 0.4,
    0.2, 0.18, 0.18, 0.18, 0.18, 0.18, 0.25, 0.4,
    0.2, 0.18, 0.18, 0.18, 0.18, 0.18, 0.25, 0.4,
    0.2, 0.18, 0.18, 0.18, 0.18, 0.18, 0.25, 0.4,
    0.2,
]
rdbr2_w = [
    0.2, 0.3, 0.6,
    0.2, 0.15, 0.15, 0.15, 0.15, 0.15, 0.3, 0.9,
    0.2, 0.15, 0.15, 0.15, 0.15, 0.15, 0.3, 1.1,
    0.2, 0.15, 0.15, 0.15, 0.15, 0.15, 0.3, 1.6,
    0.2, 0.15, 0.15, 0.15, 0.15, 0.15, 0.3, 1.2,
    0.2, 0.15, 0.15, 0.15, 0.15, 0.15, 0.3, 0.75,
    0.2, 0.15, 0.15, 0.15, 0.15, 0.15, 0.3, 0.75,
    0.2, 0.15, 0.15, 0.15, 0.15, 0.15, 0.3, 1.1,
    0.2, 0.15, 0.15, 0.15, 0.15, 0.15, 0.3, 1.1,
    0.2, 0.15, 0.15, 0.15, 0.15, 0.15, 0.3, 1.25,
    0.2, 0.15, 0.15, 0.15, 0.15, 0.15, 0.3, 0.75,
    0.2, 0.15, 0.15, 0.15, 0.15, 0.15, 0.3, 0.7,
    0.2, 0.15, 0.15, 0.15, 0.15, 0.15, 0.3, 1.5,
    0.2, 0.15, 0.15, 0.15, 0.15, 0.15, 0.3, 2.4,
    0.2, 0.15, 0.15, 0.15, 0.15, 0.15, 0.3, 1.9,
    0.2, 0.15, 0.15, 0.15, 0.15, 0.15, 0.3, 1.0,
    0.2, 0.15, 0.15, 0.15, 0.15, 0.15, 0.3, 0.9,
    0.2, 0.15, 0.15, 0.15, 0.15, 0.15, 0.3, 1.0,
    0.2,
]
mmd2_w = [
    0.8, 0.9, 1.0,
    0.9, 0.8, 0.8, 0.8, 0.8, 0.8, 0.9, 1.0,
    0.9, 0.8, 0.8, 0.8, 0.8, 0.8, 0.9, 1.0,
    0.9, 0.8, 0.8, 0.8, 0.8, 0.8, 0.9, 1.0,
    0.9, 0.8, 0.8, 0.8, 0.8, 0.8, 0.9, 1.0,
    0.9, 0.8, 0.8, 0.8, 0.8, 0.8, 0.9, 1.0,
    0.9, 0.8, 0.8, 0.8, 0.8, 0.8, 0.9, 1.0,
    0.9, 0.8, 0.8, 0.8, 0.8, 0.8, 0.9, 1.0,
    0.9, 0.8, 0.8, 0.8, 0.8, 0.8, 0.9, 1.0,
    0.9, 0.8, 0.8, 0.8, 0.8, 0.8, 0.9, 1.0,
    0.9, 0.8, 0.8, 0.8, 0.8, 0.8, 0.9, 1.0,
    0.9, 0.8, 0.8, 0.8, 0.8, 0.8, 0.9, 1.0,
    0.9, 0.8, 0.8, 0.8, 0.8, 0.8, 0.9, 1.0,
    0.9, 0.8, 0.8, 0.8, 0.8, 0.8, 0.9, 1.0,
    0.9, 0.8, 0.8, 0.8, 0.8, 0.8, 0.9, 1.0,
    0.9, 0.8, 0.8, 0.8, 0.8, 0.8, 0.9, 1.0,
    0.9, 0.8, 0.8, 0.8, 0.8, 0.8, 0.9, 1.0,
    0.9, 0.8, 0.8, 0.8, 0.8, 0.8, 0.9, 1.0,
    0.9,
]

# ---------------- figure ----------------
plt.rcParams['font.family'] = ['Liberation Sans', 'DejaVu Sans']
plt.rcParams['mathtext.fontset'] = 'cm'
plt.rcParams['axes.unicode_minus'] = False

W, H = 831, 855
fig = plt.figure(figsize=(W / 100, H / 100), dpi=100)

col_x = [(28, 378), (476, 826)]
row_y = [(5, 101), (145, 242), (287, 384), (429, 526), (571, 667), (712, 809)]
axis_col = '#262626'


def make_ax(col, row, ylim, yticks):
    x0, x1 = col_x[col]
    y0, y1 = row_y[row]
    ax = fig.add_axes([x0 / W, 1 - y1 / H, (x1 - x0) / W, (y1 - y0) / H])
    ax.set_xlim(0, 1)
    ax.set_ylim(*ylim)
    ax.set_xticks(x_ticks)
    ax.set_xticklabels(x_tick_labels)
    ax.set_yticks(yticks)
    ax.set_yticklabels([str(v) for v in yticks])
    ax.tick_params(direction='in', length=3.5, width=0.6, top=True, right=True,
                   labelsize=12, colors=axis_col, pad=2.5)
    for s in ax.spines.values():
        s.set_linewidth(0.6)
        s.set_color(axis_col)
    return ax


def label(ax, txt):
    ax.text(0.004, 0.975, txt, transform=ax.transAxes, va='top', ha='left',
            fontsize=12.5, color='k')


def check(name, a, b):
    if len(a) != len(b):
        raise ValueError(f'{name}: {len(a)} vs {len(b)}')


band_col = '#c4c4c4'
s1_lim, s1_ticks = (-2, 2.5), [-2, 0, 2]
s2_lim, s2_ticks = (-1.6, 6.8), [0, 2, 4, 6]

# f(t)
ax = make_ax(0, 0, (-3.85, 6.85), [-2, 0, 2, 4, 6])
ft, fy = zip(*f_pts)
ax.plot(ft, fy, color='k', lw=0.8)
label(ax, r'$f(t)$')

# s1, s2
ax = make_ax(0, 1, s1_lim, s1_ticks)
t, y = zip(*s1_pts)
ax.plot(t, y, color='k', lw=0.8)
label(ax, r'$s_1(t)$')

ax = make_ax(1, 1, s2_lim, s2_ticks)
t, y = zip(*s2_pts)
ax.plot(t, y, color='k', lw=0.8)
label(ax, r'$s_2(t)$')

# estimates of s1
s1_est = [('SAMD', samd1, samd1_w), ('LR', lr1, lr1_w), ('RDBR', rdbr1, rdbr1_w)]
for r, (name, y, w) in enumerate(s1_est):
    check(name + '1', s1r_t, y)
    check(name + '1_w', s1r_t, w)
    ax = make_ax(0, r + 2, s1_lim, s1_ticks)
    t = np.array(s1r_t)
    y = np.array(y)
    w = np.array(w)
    ax.fill_between(t, y - w, y + w, color=band_col, lw=0)
    ax.plot(t, y, color='k', lw=0.8)
    label(ax, r'$\tilde{s}_1(t)\ \mathrm{(' + name + ')}$')

ax = make_ax(0, 5, s1_lim, s1_ticks)
t, y, w = (np.array(v) for v in zip(*mmd1_pts))
ax.fill_between(t, y - w, y + w, color=band_col, lw=0)
ax.plot(t, y, color='k', lw=0.8)
label(ax, r'$\tilde{s}_1(t)\ \mathrm{(MMD)}$')
ax.set_xlabel(r'$t$', fontsize=14, labelpad=0)

# estimates of s2
s2_est = [('SAMD', samd2, samd2_w), ('LR', lr2, lr2_w), ('RDBR', rdbr2, rdbr2_w), ('MMD', mmd2, mmd2_w)]
for r, (name, y, w) in enumerate(s2_est):
    check(name + '2', s2r_t, y)
    check(name + '2_w', s2r_t, w)
    ax = make_ax(1, r + 2, s2_lim, s2_ticks)
    t = np.array(s2r_t)
    y = np.array(y)
    w = np.array(w)
    ax.fill_between(t, y - w, y + w, color=band_col, lw=0)
    ax.plot(t, y, color='k', lw=0.8)
    label(ax, r'$\tilde{s}_2(t)\ \mathrm{(' + name + ')}$')
    if name == 'MMD':
        ax.set_xlabel(r'$t$', fontsize=14, labelpad=0)

fig.savefig('out.png', dpi=100)
